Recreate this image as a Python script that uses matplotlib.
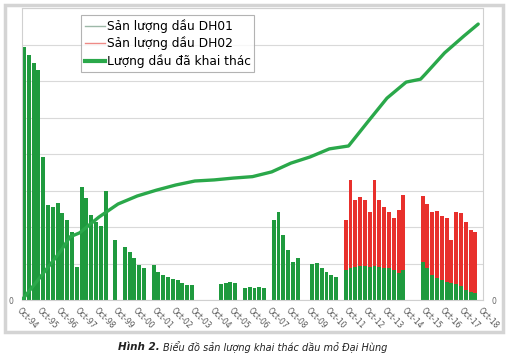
import numpy as np
import matplotlib.pyplot as plt
from matplotlib.lines import Line2D
from matplotlib.patches import Rectangle

# quarterly production (one value per quarter, starting Oct-94)
dh01 = [6.93, 6.7, 6.5, 6.3,
        3.92, 2.6, 2.55, 2.66,
        2.38, 2.19, 1.86, 0.9,
        3.1, 2.8, 2.33, 2.14,
        2.03, 3.0, 0, 1.64,
        0, 1.45, 1.32, 1.15,
        0.96, 0.88, 0, 0.96,
        0.77, 0.68, 0.63, 0.58,
        0.55, 0.47, 0.41, 0.41,
        0, 0, 0, 0,
        0, 0.44, 0.47, 0.49,
        0.47, 0, 0.33, 0.36,
        0.33, 0.36, 0.33, 0,
        2.19, 2.41, 1.78, 1.37,
        1.04, 1.15, 0, 0,
        0.99, 1.01, 0.88, 0.77,
        0.68, 0.63, 0, 0.82,
        0.88, 0.9, 0.93, 0.93,
        0.9, 0.93, 0.9, 0.88,
        0.88, 0.82, 0.74, 0.82,
        0, 0, 0, 1.04,
        0.88, 0.68, 0.6, 0.55,
        0.49, 0.47, 0.44, 0.38,
        0.27, 0.22, 0.19, 0]
dh02 = [0] * 67 + [1.38,
        2.41, 1.84, 1.89, 1.81,
        1.51, 2.36, 1.84, 1.67,
        1.53, 1.43, 1.73, 2.06,
        0, 0, 0, 1.81,
        1.75, 1.73, 1.84, 1.75,
        1.76, 1.17, 1.97, 2.0,
        1.87, 1.70, 1.67, 0]

# cumulative produced oil (quarter index, value)
cum_q = [0, 4, 8, 10, 12, 16, 20, 24, 28, 32, 36, 40, 44, 48, 52, 56, 60,
         64, 68, 72, 76, 80, 83, 84, 88, 92, 95]
cum_val = [0, 0.66, 1.33, 1.73, 1.84, 2.27, 2.63, 2.85, 3.01, 3.15, 3.26,
           3.29, 3.34, 3.38, 3.51, 3.75, 3.92, 4.14, 4.22, 4.88, 5.53, 5.97,
           6.05, 6.19, 6.77, 7.23, 7.56]

years = ["Oct-%02d" % (y % 100) for y in range(1994, 2019)]

plt.rcParams['font.family'] = ['DejaVu Sans']

fig = plt.figure(figsize=(5.09, 3.6), dpi=100)
ax = fig.add_axes([22 / 509, 60 / 360, 461 / 509, 292 / 360])

q = np.arange(len(dh01))
green = '#1f9a3e'
red = '#e8302c'
ax.bar(q, dh01, width=0.82, align='edge', color=green, lw=0)
ax.bar(q, dh02, width=0.82, align='edge', bottom=dh01, color=red, lw=0)

ax.set_xlim(0, 96)
ax.set_ylim(0, 8)
ax.set_yticks(range(9))
ax.set_yticklabels(['0'] + [''] * 8)
ax.grid(axis='y', color='#d9d9d9', lw=0.8)
ax.set_axisbelow(True)
ax.set_xticks(range(0, 97, 4))
ax.set_xticklabels(years, rotation=-45, ha='left', va='top',
                   rotation_mode='anchor', fontsize=5.5, color='#555555')
ax.tick_params(axis='x', length=0, pad=4)
ax.tick_params(axis='y', length=0, labelsize=5.5, labelcolor='#666666', pad=6)
for s in ax.spines.values():
    s.set_color('#d0d0d0')
    s.set_linewidth(0.8)

ax2 = ax.twinx()
ax2.set_ylim(0, 8)
ax2.plot(cum_q, cum_val, color='#2aa84a', lw=2.4, solid_capstyle='round')
ax2.set_yticks([0])
ax2.set_yticklabels(['0'])
ax2.tick_params(axis='y', length=0, labelsize=5.5, labelcolor='#666666', pad=6)
for s in ax2.spines.values():
    s.set_visible(False)

handles = [Line2D([], [], color='#9db8a8', lw=1),
           Line2D([], [], color='#ee8a86', lw=1),
           Line2D([], [], color='#2aa84a', lw=3)]
labels = ['Sản lượng dầu DH01', 'Sản lượng dầu DH02', 'Lượng dầu đã khai thác']
leg = ax2.legend(handles, labels, loc='upper left', bbox_to_anchor=(0.128, 0.975),
                 fontsize=8.8, frameon=True, fancybox=False, handlelength=1.7,
                 handletextpad=0.1, borderpad=0.3, labelspacing=0.3,
                 borderaxespad=0)
leg.get_frame().set_edgecolor('#a0a0a0')
leg.get_frame().set_linewidth(0.8)

fig.patches.append(Rectangle((5 / 509, 1 - 332 / 360), 498 / 509, 327 / 360,
                             transform=fig.transFigure, fill=False,
                             edgecolor='#d4d4d4', lw=2.5))

fig.text(118 / 509, 1 - 347 / 360, 'Hình 2.', fontsize=7.5, fontweight='bold',
         style='italic', ha='left', va='center', color='#222222')
fig.text(163 / 509, 1 - 347 / 360, 'Biểu đồ sản lượng khai thác dầu mỏ Đại Hùng',
         fontsize=7, style='italic', ha='left', va='center', color='#222222')

fig.savefig('out.png', dpi=100)
